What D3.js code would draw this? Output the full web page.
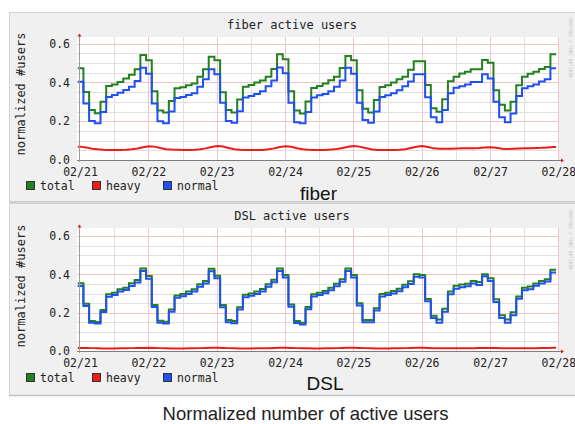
<!DOCTYPE html>
<html>
<head>
<meta charset="utf-8">
<script src="https://d3js.org/d3.v7.min.js"></script>
<style>
  body { margin: 0; background: #fff; }
  svg { display: block; }
</style>
</head>
<body>
<svg width="575" height="424"></svg>
<script>
//-------------------
// DATA
//-------------------
var dayLabels = ["02/21", "02/22", "02/23", "02/24", "02/25", "02/26", "02/27", "02/28"];
var yTicks = [0, 0.2, 0.4, 0.6];
var seriesNames = ["total", "heavy", "normal"];

// 2-hour samples, 12 per day, first one starts 0.8h before 02/21 00:00
var fiberTotal = [
  0.473, 0.351, 0.258, 0.241, 0.301, 0.382, 0.390, 0.402, 0.420, 0.440, 0.468, 0.542,
  0.514, 0.355, 0.255, 0.245, 0.305, 0.370, 0.375, 0.385, 0.395, 0.430, 0.468, 0.533,
  0.514, 0.350, 0.258, 0.245, 0.312, 0.378, 0.387, 0.400, 0.410, 0.430, 0.470, 0.545,
  0.520, 0.355, 0.255, 0.240, 0.302, 0.372, 0.382, 0.395, 0.412, 0.430, 0.474, 0.536,
  0.514, 0.360, 0.264, 0.245, 0.310, 0.377, 0.386, 0.400, 0.417, 0.430, 0.465, 0.510,
  0.510, 0.387, 0.267, 0.249, 0.313, 0.406, 0.430, 0.446, 0.455, 0.468, 0.468, 0.516,
  0.502, 0.360, 0.285, 0.255, 0.300, 0.385, 0.430, 0.445, 0.455, 0.470, 0.480, 0.545
];
var fiberHeavy = [
  0.069, 0.065, 0.058, 0.055, 0.053, 0.052, 0.052, 0.052, 0.053, 0.055, 0.059, 0.066,
  0.071, 0.069, 0.062, 0.056, 0.054, 0.053, 0.052, 0.052, 0.053, 0.056, 0.060, 0.067,
  0.072, 0.070, 0.062, 0.056, 0.053, 0.052, 0.051, 0.051, 0.052, 0.055, 0.060, 0.067,
  0.071, 0.068, 0.061, 0.056, 0.053, 0.052, 0.052, 0.052, 0.054, 0.057, 0.062, 0.068,
  0.072, 0.069, 0.062, 0.055, 0.052, 0.051, 0.051, 0.052, 0.053, 0.056, 0.062, 0.068,
  0.072, 0.067, 0.060, 0.058, 0.058, 0.058, 0.059, 0.060, 0.060, 0.061, 0.062, 0.064,
  0.066, 0.063, 0.058, 0.057, 0.058, 0.059, 0.060, 0.061, 0.062, 0.063, 0.065, 0.067
];
var fiberNormal = [
  0.404, 0.292, 0.201, 0.189, 0.248, 0.325, 0.335, 0.347, 0.361, 0.378, 0.408, 0.476,
  0.445, 0.292, 0.200, 0.190, 0.250, 0.320, 0.325, 0.335, 0.345, 0.378, 0.416, 0.468,
  0.442, 0.296, 0.201, 0.192, 0.252, 0.322, 0.330, 0.340, 0.355, 0.380, 0.410, 0.477,
  0.448, 0.296, 0.195, 0.189, 0.248, 0.322, 0.334, 0.340, 0.355, 0.378, 0.410, 0.476,
  0.445, 0.296, 0.206, 0.192, 0.250, 0.325, 0.334, 0.344, 0.360, 0.380, 0.405, 0.442,
  0.442, 0.324, 0.220, 0.195, 0.258, 0.344, 0.373, 0.380, 0.390, 0.402, 0.402, 0.442,
  0.421, 0.300, 0.220, 0.195, 0.240, 0.330, 0.370, 0.380, 0.390, 0.405, 0.416, 0.473
];

var dslTotal = [
  0.353, 0.247, 0.156, 0.151, 0.214, 0.296, 0.304, 0.322, 0.330, 0.353, 0.370, 0.431,
  0.391, 0.240, 0.158, 0.153, 0.216, 0.290, 0.298, 0.310, 0.322, 0.348, 0.365, 0.429,
  0.393, 0.240, 0.162, 0.156, 0.228, 0.293, 0.300, 0.310, 0.323, 0.348, 0.372, 0.431,
  0.396, 0.243, 0.156, 0.148, 0.230, 0.296, 0.304, 0.313, 0.330, 0.351, 0.374, 0.431,
  0.396, 0.249, 0.162, 0.162, 0.223, 0.297, 0.304, 0.313, 0.325, 0.346, 0.364, 0.400,
  0.396, 0.271, 0.184, 0.164, 0.220, 0.310, 0.340, 0.347, 0.351, 0.365, 0.360, 0.400,
  0.379, 0.270, 0.186, 0.165, 0.202, 0.285, 0.330, 0.336, 0.352, 0.365, 0.375, 0.424
];
var dslHeavy = [
  0.016, 0.016, 0.015, 0.014, 0.013, 0.013, 0.013, 0.014, 0.014, 0.015, 0.016, 0.016,
  0.017, 0.016, 0.015, 0.014, 0.013, 0.013, 0.013, 0.014, 0.014, 0.015, 0.016, 0.017,
  0.017, 0.016, 0.015, 0.014, 0.013, 0.013, 0.013, 0.014, 0.015, 0.015, 0.016, 0.017,
  0.017, 0.016, 0.015, 0.014, 0.014, 0.013, 0.013, 0.014, 0.014, 0.015, 0.016, 0.017,
  0.017, 0.016, 0.015, 0.014, 0.013, 0.013, 0.013, 0.014, 0.014, 0.015, 0.016, 0.017,
  0.017, 0.016, 0.015, 0.015, 0.014, 0.014, 0.014, 0.015, 0.015, 0.015, 0.016, 0.016,
  0.016, 0.016, 0.015, 0.015, 0.014, 0.014, 0.014, 0.015, 0.015, 0.016, 0.016, 0.017
];
var dslNormal = [
  0.339, 0.235, 0.148, 0.144, 0.203, 0.283, 0.292, 0.310, 0.318, 0.339, 0.357, 0.417,
  0.377, 0.230, 0.148, 0.143, 0.205, 0.278, 0.286, 0.298, 0.310, 0.335, 0.352, 0.416,
  0.380, 0.228, 0.150, 0.145, 0.216, 0.281, 0.288, 0.298, 0.311, 0.335, 0.359, 0.418,
  0.383, 0.231, 0.146, 0.138, 0.218, 0.284, 0.292, 0.301, 0.317, 0.338, 0.361, 0.418,
  0.383, 0.237, 0.150, 0.150, 0.211, 0.285, 0.292, 0.300, 0.312, 0.333, 0.350, 0.388,
  0.383, 0.260, 0.172, 0.148, 0.205, 0.296, 0.325, 0.333, 0.338, 0.352, 0.345, 0.390,
  0.365, 0.256, 0.172, 0.148, 0.186, 0.272, 0.317, 0.322, 0.340, 0.352, 0.362, 0.409
];

//-------------------
// GLOBAL VARIABLES
//-------------------
var svg = d3.select("svg");
var mono = "'DejaVu Sans Mono', monospace";
var colors = { total: "#22801e", heavy: "#ee1b1b", normal: "#1f50f0" };

var stepHours = d3.range(fiberTotal.length).map(function (k) { return -0.8 + 2 * k; });

var x = d3.scaleLinear().domain([0, 168]).range([80, 558.4]);

var panels = [
  { name: "fiber", title: "fiber active users", top: 12, bottom: 202,
    titleY: 29, canvasTop: 37, y0: 160, y6: 43.7, labelY: 94,
    legendTop: 181, captionX: 300, captionY: 199.5, wmY: 48,
    series: { total: fiberTotal, heavy: fiberHeavy, normal: fiberNormal } },
  { name: "DSL", title: "DSL active users", top: 203, bottom: 395.5,
    titleY: 220, canvasTop: 228, y0: 351, y6: 236, labelY: 286,
    legendTop: 373, captionX: 306.5, captionY: 390, wmY: 240,
    series: { total: dslTotal, heavy: dslHeavy, normal: dslNormal } }
];

//-------------------
// DRAW PANELS
//-------------------
panels.forEach(drawPanel);

function drawPanel(p) {
    var g = svg.append("g").attr("class", "panel " + p.name);
    var y = d3.scaleLinear().domain([0, 0.6]).range([p.y0, p.y6]);

    // background + borders
    g.append("rect")
        .attr("x", 9).attr("y", p.top)
        .attr("width", 575 - 9).attr("height", p.bottom - p.top)
        .attr("fill", "#f0f0f0");
    g.append("line").attr("x1", 9).attr("x2", 575).attr("y1", p.top + 0.5).attr("y2", p.top + 0.5)
        .attr("stroke", "#d2d2d2");
    g.append("line").attr("x1", 9.5).attr("x2", 9.5).attr("y1", p.top).attr("y2", p.bottom)
        .attr("stroke", "#d2d2d2");
    g.append("line").attr("x1", 9).attr("x2", 575).attr("y1", p.bottom).attr("y2", p.bottom)
        .attr("stroke", "#c2c2c2").attr("stroke-width", 1.5);

    // canvas
    g.append("rect")
        .attr("x", 77).attr("y", p.canvasTop)
        .attr("width", 559 - 77).attr("height", p.y0 - p.canvasTop)
        .attr("fill", "#fff");

    // minor grid
    var minorY = y.ticks(12).filter(function (v) { return v > 0 && yTicks.indexOf(+v.toFixed(2)) < 0; });
    g.selectAll("line.hminor").data(minorY).enter().append("line")
        .attr("class", "hminor")
        .attr("x1", 77).attr("x2", 559)
        .attr("y1", function (d) { return Math.round(y(d)) + 0.5; })
        .attr("y2", function (d) { return Math.round(y(d)) + 0.5; })
        .attr("stroke", "#e4dede");
    var minorX = d3.range(12, 168, 24);
    g.selectAll("line.vminor").data(minorX).enter().append("line")
        .attr("class", "vminor")
        .attr("x1", function (d) { return Math.round(x(d)) + 0.5; })
        .attr("x2", function (d) { return Math.round(x(d)) + 0.5; })
        .attr("y1", p.canvasTop).attr("y2", p.y0)
        .attr("stroke", "#e4dede");

    // major grid
    g.selectAll("line.hmajor").data(yTicks.slice(1)).enter().append("line")
        .attr("class", "hmajor")
        .attr("x1", 77).attr("x2", 559)
        .attr("y1", function (d) { return Math.round(y(d)) + 0.5; })
        .attr("y2", function (d) { return Math.round(y(d)) + 0.5; })
        .attr("stroke", "#f4c4c4");
    g.selectAll("line.vmajor").data(d3.range(24, 169, 24)).enter().append("line")
        .attr("class", "vmajor")
        .attr("x1", function (d) { return Math.round(x(d)) + 0.5; })
        .attr("x2", function (d) { return Math.round(x(d)) + 0.5; })
        .attr("y1", p.canvasTop).attr("y2", p.y0)
        .attr("stroke", "#f4c4c4");

    // series
    var stepLine = d3.line()
        .x(function (d) { return x(d[0]); })
        .y(function (d) { return y(d[1]); })
        .curve(d3.curveStepAfter);
    var smoothLine = d3.line()
        .x(function (d) { return x(d[0]); })
        .y(function (d) { return y(d[1]); });

    seriesNames.forEach(function (name) {
        var vals = p.series[name];
        var pts;
        if (name === "heavy") {
            pts = vals.map(function (v, i) { return [stepHours[i] + 1, v]; });
            pts.unshift([stepHours[0], vals[0]]);
            pts.push([stepHours[vals.length - 1] + 2, vals[vals.length - 1]]);
            g.append("path").datum(pts)
                .attr("d", smoothLine)
                .attr("fill", "none")
                .attr("stroke", colors[name])
                .attr("stroke-width", 2);
        } else {
            pts = vals.map(function (v, i) { return [stepHours[i], v]; });
            pts.push([stepHours[vals.length - 1] + 2, vals[vals.length - 1]]);
            g.append("path").datum(pts)
                .attr("d", stepLine)
                .attr("fill", "none")
                .attr("stroke", colors[name])
                .attr("stroke-width", 2);
        }
    });

    // axes lines
    g.append("line").attr("x1", 77).attr("x2", 561).attr("y1", p.y0 + 0.5).attr("y2", p.y0 + 0.5)
        .attr("stroke", "#7c7c7c");
    g.append("line").attr("x1", 79.5).attr("x2", 79.5).attr("y1", p.canvasTop - 1).attr("y2", p.y0 + 2)
        .attr("stroke", "#9a9a9a");
    g.append("path")
        .attr("d", "M" + 561 + "," + (p.y0 - 1.5) + "L" + 564 + "," + (p.y0 + 0.5) + "L" + 561 + "," + (p.y0 + 2.5) + "Z")
        .attr("fill", "#d02020");
    g.append("path")
        .attr("d", "M" + 77.5 + "," + (p.canvasTop - 0.5) + "L" + 79.5 + "," + (p.canvasTop - 3.5) + "L" + 81.5 + "," + (p.canvasTop - 0.5) + "Z")
        .attr("fill", "#d02020");

    // tick labels
    var yAxis = g.append("g")
        .attr("transform", "translate(79.5,0)")
        .call(d3.axisLeft(y).tickValues(yTicks).tickFormat(d3.format(".1f")).tickSize(0).tickPadding(9.5));
    var xAxis = g.append("g")
        .attr("transform", "translate(0," + p.y0 + ")")
        .call(d3.axisBottom(x).tickValues(d3.range(0, 169, 24))
            .tickFormat(function (d) { return dayLabels[d / 24]; })
            .tickSize(0).tickPadding(7.5));
    [yAxis, xAxis].forEach(function (a) {
        a.select(".domain").remove();
        a.attr("font-family", mono).attr("font-size", 11.5);
        a.selectAll("text").attr("fill", "#222");
    });

    // title + y label
    g.append("text")
        .attr("x", 292).attr("y", p.titleY)
        .attr("text-anchor", "middle")
        .attr("font-family", mono).attr("font-size", 12).attr("fill", "#222")
        .text(p.title);
    g.append("text")
        .attr("transform", "translate(24.5," + p.labelY + ") rotate(-90)")
        .attr("text-anchor", "middle")
        .attr("font-family", mono).attr("font-size", 12).attr("fill", "#222")
        .text("normalized #users");

    // watermark
    g.append("text")
        .attr("transform", "translate(568.5," + p.wmY + ") rotate(90)")
        .attr("text-anchor", "middle")
        .attr("font-family", mono).attr("font-size", 4.5).attr("fill", "#c4c4c4")
        .text("RRDTOOL / TOBI OETIKER");

    // legend
    var legendX = [26, 92, 163];
    seriesNames.forEach(function (name, i) {
        g.append("rect")
            .attr("x", legendX[i] + 0.5).attr("y", p.legendTop + 0.5)
            .attr("width", 8).attr("height", 8)
            .attr("fill", colors[name])
            .attr("stroke", "#333").attr("stroke-width", 1);
        g.append("text")
            .attr("x", legendX[i] + 14).attr("y", p.legendTop + 9)
            .attr("font-family", mono).attr("font-size", 11.5).attr("fill", "#222")
            .text(name);
    });

    // caption under the panel
    g.append("text")
        .attr("x", p.captionX).attr("y", p.captionY)
        .attr("font-family", "'Liberation Sans', Arial, sans-serif")
        .attr("font-size", 19).attr("fill", "#111")
        .text(p.name);
}

//-------------------
// FIGURE CAPTION
//-------------------
svg.append("text")
    .attr("x", 305.5).attr("y", 420)
    .attr("text-anchor", "middle")
    .attr("font-family", "'Liberation Sans', Arial, sans-serif")
    .attr("font-size", 18.5).attr("fill", "#222")
    .text("Normalized number of active users");
</script>
</body>
</html>
